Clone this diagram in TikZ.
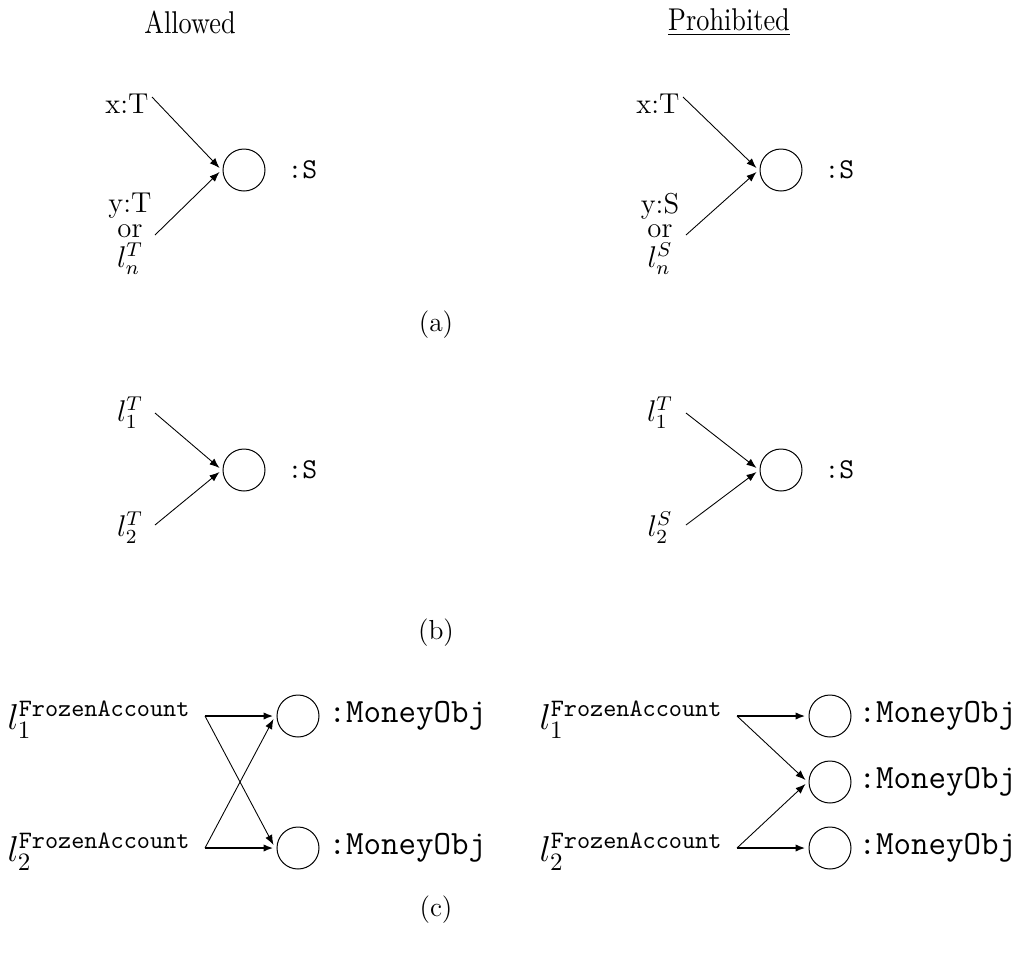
\documentclass[tikz,border=0pt]{standalone}
\usetikzlibrary{arrows.meta,calc}
\begin{document}
\begin{tikzpicture}[x=0.4pt,y=-0.4pt,
  obj/.style={draw,circle,minimum size=16.8pt,inner sep=0pt,line width=0.4pt},
  arr/.style={-{Latex[length=4pt,width=3pt]},line width=0.35pt},
  harr/.style={arr,line width=0.8pt},
  lbl/.style={inner sep=0pt,font=\fontsize{11.5}{12}\selectfont},
  lblc/.style={inner sep=0pt,anchor=west,font=\fontsize{13.6}{14}\selectfont},
  ttl/.style={inner sep=0pt,font=\fontsize{10.5}{12}\selectfont},
  captxt/.style={inner sep=0pt,font=\fontsize{11}{12}\selectfont},
  typ/.style={inner sep=0pt,anchor=west,font=\fontsize{11.5}{12}\selectfont\ttfamily},
  typc/.style={inner sep=0pt,anchor=west,font=\fontsize{13.6}{14}\selectfont\ttfamily},
]
\useasboundingbox (0,0) rectangle (1022,961);

% titles
\node[ttl] (tA) at (190,22) {\scalebox{1}[1.2]{Allowed}};
\node[ttl] (tP) at (729,22) {\underline{\scalebox{1}[1.2]{Prohibited}}};

% ---------- (a) left
\node[lbl] (axT) at (127,104) {x:T};
\node[lbl] (ayT) at (130,206) {y:T};
\node[lbl] (aor) at (130,231) {or};
\node[lbl] (aln) at (130,259) {$l_n^T$};
\node[obj] (ac) at (244,170) {};
\node[typ] (aS) at (287,170) {:S};
\coordinate (as1) at (152,97);
\coordinate (as2) at (155,235);
\draw[arr] (as1) -- ($(ac.west)+(-3,-2)$);
\draw[arr] (as2) -- ($(ac.west)+(-3,2)$);

% ---------- (a) right
\node[lbl] (bxT) at (658,104) {x:T};
\node[lbl] (byS) at (660,206) {y:S};
\node[lbl] (bor) at (660,231) {or};
\node[lbl] (bln) at (660,259) {$l_n^S$};
\node[obj] (bc) at (781,170) {};
\node[typ] (bS) at (824,170) {:S};
\coordinate (bs1) at (683,97);
\coordinate (bs2) at (686,235);
\draw[arr] (bs1) -- ($(bc.west)+(-3,-2)$);
\draw[arr] (bs2) -- ($(bc.west)+(-3,2)$);

\node[captxt] (capa) at (436,325) {(a)};

% ---------- (b) left
\node[lbl] (cl1) at (130,413) {$l_1^T$};
\node[lbl] (cl2) at (130,528) {$l_2^T$};
\node[obj] (cc) at (244,470) {};
\node[typ] (cS) at (287,470) {:S};
\coordinate (cs1) at (155,413);
\coordinate (cs2) at (155,525);
\draw[arr] (cs1) -- ($(cc.west)+(-3,-2)$);
\draw[arr] (cs2) -- ($(cc.west)+(-3,2)$);

% ---------- (b) right
\node[lbl] (dl1) at (660,413) {$l_1^T$};
\node[lbl] (dl2) at (660,528) {$l_2^S$};
\node[obj] (dc) at (781,470) {};
\node[typ] (dS) at (824,470) {:S};
\coordinate (ds1) at (686,413);
\coordinate (ds2) at (686,525);
\draw[arr] (ds1) -- ($(dc.west)+(-3,-2)$);
\draw[arr] (ds2) -- ($(dc.west)+(-3,2)$);

\node[captxt] (capb) at (436,633) {(b)};

% ---------- (c) left
\node[lblc] (el1) at (7,720) {$l_1^{\mathtt{FrozenAccount}}$};
\node[lblc] (el2) at (7,852) {$l_2^{\mathtt{FrozenAccount}}$};
\node[obj] (ec1) at (298,716) {};
\node[obj] (ec2) at (298,848) {};
\node[typc] (em1) at (328,716) {:MoneyObj};
\node[typc] (em2) at (328,848) {:MoneyObj};
\coordinate (es1) at (205,716);
\coordinate (es2) at (205,848);
\draw[harr] (es1) -- ($(ec1.west)+(-3,0)$);
\draw[arr] (es1) -- ($(ec2.west)+(-3,-3)$);
\draw[arr] (es2) -- ($(ec1.west)+(-3,3)$);
\draw[harr] (es2) -- ($(ec2.west)+(-3,0)$);

% ---------- (c) right
\node[lblc] (fl1) at (539,720) {$l_1^{\mathtt{FrozenAccount}}$};
\node[lblc] (fl2) at (539,852) {$l_2^{\mathtt{FrozenAccount}}$};
\node[obj] (fc1) at (830,716) {};
\node[obj] (fc2) at (830,782) {};
\node[obj] (fc3) at (830,848) {};
\node[typc] (fm1) at (858,716) {:MoneyObj};
\node[typc] (fm2) at (858,782) {:MoneyObj};
\node[typc] (fm3) at (858,848) {:MoneyObj};
\coordinate (fs1) at (737,716);
\coordinate (fs2) at (737,848);
\draw[harr] (fs1) -- ($(fc1.west)+(-3,0)$);
\draw[arr] (fs1) -- ($(fc2.west)+(-3,-2)$);
\draw[arr] (fs2) -- ($(fc2.west)+(-3,2)$);
\draw[harr] (fs2) -- ($(fc3.west)+(-3,0)$);

\node[captxt] (capc) at (436,910) {(c)};
\end{tikzpicture}
\end{document}
